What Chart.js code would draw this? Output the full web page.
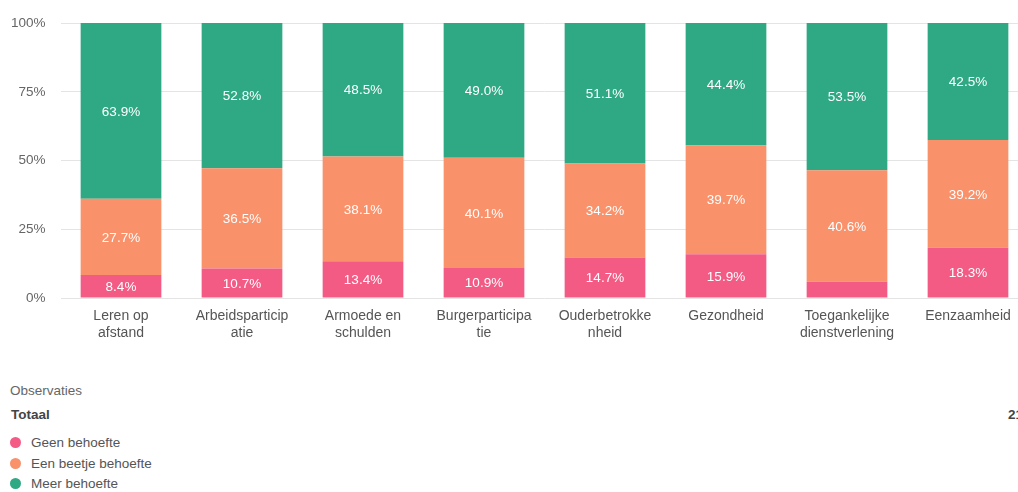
<!DOCTYPE html>
<html>
<head>
<meta charset="utf-8">
<script src="https://cdn.jsdelivr.net/npm/chart.js@4"></script>
<style>
  html, body { margin: 0; padding: 0; background: #fff; width: 1018px; height: 492px; overflow: hidden; }
  body { position: relative; font-family: "Liberation Sans", Arial, sans-serif; }
  #wrap { position: absolute; left: 0; top: 0; width: 1040px; height: 350px; }
  .t { position: absolute; font-size: 13.5px; white-space: nowrap; line-height: 16px; }
  .dot { position: absolute; width: 11px; height: 11px; border-radius: 50%; }
</style>
</head>
<body>
<div id="wrap"><canvas id="c" width="1040" height="350"></canvas></div>
<div class="t" style="left:10px; top:383px; color:#666;">Observaties</div>
<div class="t" style="left:11px; top:407px; color:#444; font-weight:bold;">Totaal</div>
<div class="t" style="left:1008px; top:407px; color:#444; font-weight:bold;">21</div>
<div class="dot" style="left:10px; top:437px; background:#F35B85;"></div>
<div class="t" style="left:31px; top:435px; color:#555;">Geen behoefte</div>
<div class="dot" style="left:10px; top:458px; background:#F9916A;"></div>
<div class="t" style="left:31px; top:456px; color:#555;">Een beetje behoefte</div>
<div class="dot" style="left:10px; top:478px; background:#2EA984;"></div>
<div class="t" style="left:31px; top:476px; color:#555;">Meer behoefte</div>
<script>
const categories = [
  ['Leren op', 'afstand'],
  ['Arbeidsparticip', 'atie'],
  ['Armoede en', 'schulden'],
  ['Burgerparticipa', 'tie'],
  ['Ouderbetrokke', 'nheid'],
  ['Gezondheid'],
  ['Toegankelijke', 'dienstverlening'],
  ['Eenzaamheid']
];
const seriesNames = ['Geen behoefte', 'Een beetje behoefte', 'Meer behoefte'];
const geenBehoefte = [8.4, 10.7, 13.4, 10.9, 14.7, 15.9, 5.9, 18.3];
const beetjeBehoefte = [27.7, 36.5, 38.1, 40.1, 34.2, 39.7, 40.6, 39.2];
const meerBehoefte = [63.9, 52.8, 48.5, 49.0, 51.1, 44.4, 53.5, 42.5];
const yTicks = [0, 25, 50, 75, 100];
const colors = ['#F35B85', '#F9916A', '#2EA984'];

const FONT = '"Liberation Sans", Arial, sans-serif';

const labelPlugin = {
  id: 'segLabels',
  afterDatasetsDraw(chart) {
    const ctx = chart.ctx;
    ctx.save();
    ctx.fillStyle = '#ffffff';
    ctx.font = '13.5px ' + FONT;
    ctx.textAlign = 'center';
    ctx.textBaseline = 'middle';
    chart.data.datasets.forEach((ds, di) => {
      const meta = chart.getDatasetMeta(di);
      meta.data.forEach((el, i) => {
        const v = ds.data[i];
        if (v < 7) return;
        const y = (el.y + el.base) / 2;
        ctx.fillText(v.toFixed(1) + '%', el.x, y + 1);
      });
    });
    ctx.restore();
  }
};

new Chart(document.getElementById('c'), {
  type: 'bar',
  data: {
    labels: categories,
    datasets: [
      { label: seriesNames[0], data: geenBehoefte, backgroundColor: colors[0] },
      { label: seriesNames[1], data: beetjeBehoefte, backgroundColor: colors[1] },
      { label: seriesNames[2], data: meerBehoefte, backgroundColor: colors[2] }
    ]
  },
  options: {
    responsive: false,
    animation: false,
    layout: { padding: { left: 10, top: 22, right: 11.5, bottom: 0 } },
    datasets: { bar: { barPercentage: 0.667, categoryPercentage: 1.0, borderWidth: 0 } },
    plugins: { legend: { display: false }, tooltip: { enabled: false } },
    scales: {
      x: {
        stacked: true,
        grid: { display: false },
        border: { display: false },
        ticks: { color: '#555', font: { size: 14, family: FONT }, padding: 2, maxRotation: 0, autoSkip: false },
        afterFit(s) { s.height = 52; }
      },
      y: {
        stacked: true,
        min: 0,
        max: 100,
        afterBuildTicks(s) { s.ticks = yTicks.map(v => ({ value: v })); },
        grid: { color: '#e4e4e4', drawTicks: false, lineWidth: 1 },
        border: { display: false },
        ticks: { color: '#666', font: { size: 13.5, family: FONT }, padding: 15, callback: v => v + '%' },
        afterFit(s) { s.width = 50.5; }
      }
    }
  },
  plugins: [labelPlugin]
});
</script>
</body>
</html>
